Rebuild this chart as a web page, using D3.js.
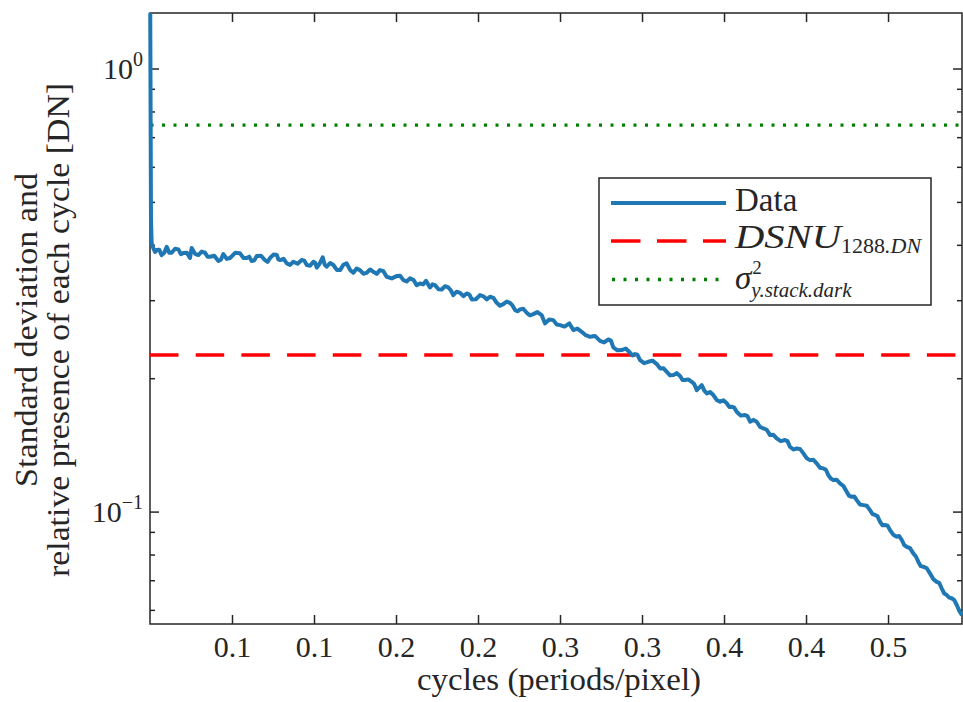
<!DOCTYPE html>
<html><head><meta charset="utf-8">
<script src="https://cdn.jsdelivr.net/npm/d3@7"></script>
<style>
body{margin:0;background:#fff}
svg{display:block}
text{font-family:"Liberation Serif","Times New Roman",serif;fill:#262626}
</style>
</head><body>
<svg id="c" width="963" height="702"></svg>
<script>
// ---------- data ----------
const freq = [0,0.0006,0.0010,0.0020,0.0031,0.0041,0.0056,0.0071,0.0087,0.0102,0.0117,0.0132,0.0153,0.0173,0.0188,0.0203,0.0224,0.0244,0.0254,0.0275,0.0295,0.0315,0.0335,0.0351,0.0366,0.0392,0.0417,0.0432,0.0447,0.0468,0.0488,0.0519,0.0549,0.0570,0.0590,0.0605,0.0620,0.0636,0.0651,0.0676,0.0701,0.0717,0.0732,0.0753,0.0773,0.0783,0.0793,0.0814,0.0834,0.0854,0.0874,0.0900,0.0925,0.0941,0.0956,0.0976,0.0996,0.1007,0.1017,0.1035,0.1053,0.1065,0.1077,0.1098,0.1118,0.1139,0.1159,0.1179,0.1199,0.1220,0.1240,0.1260,0.1280,0.1301,0.1321,0.1342,0.1362,0.1382,0.1402,0.1423,0.1443,0.1474,0.1504,0.1525,0.1545,0.1565,0.1585,0.1606,0.1626,0.1646,0.1665,0.1683,0.1707,0.1723,0.1738,0.1759,0.1779,0.1799,0.1819,0.1834,0.1849,0.1870,0.1890,0.1911,0.1931,0.1947,0.1962,0.1987,0.2012,0.2033,0.2053,0.2073,0.2094,0.2114,0.2134,0.2154,0.2175,0.2195,0.2210,0.2226,0.2241,0.2256,0.2276,0.2297,0.2317,0.2337,0.2362,0.2388,0.2409,0.2434,0.2459,0.2480,0.2500,0.2528,0.2557,0.2581,0.2606,0.2632,0.2657,0.2683,0.2713,0.2744,0.2769,0.2795,0.2810,0.2825,0.2850,0.2876,0.2901,0.2927,0.2942,0.2957,0.2972,0.2988,0.3013,0.3038,0.3064,0.3090,0.3110,0.3130,0.3151,0.3171,0.3191,0.3211,0.3232,0.3247,0.3262,0.3282,0.3303,0.3318,0.3334,0.3364,0.3380,0.3395,0.3415,0.3435,0.3455,0.3476,0.3496,0.3517,0.3532,0.3547,0.3562,0.3577,0.3602,0.3628,0.3643,0.3659,0.3679,0.3699,0.3720,0.3740,0.3760,0.3781,0.3801,0.3821,0.3846,0.3872,0.3887,0.3902,0.3923,0.3943,0.3963,0.3984,0.4004,0.4024,0.4045,0.4065,0.4085,0.4106,0.4121,0.4136,0.4151,0.4167,0.4187,0.4207,0.4228,0.4248,0.4263,0.4279,0.4294,0.4309,0.4329,0.4349,0.4370,0.4390,0.4405,0.4421,0.4436,0.4451,0.4466,0.4482,0.4497,0.4512,0.4532,0.4553,0.4568,0.4584,0.4599,0.4614,0.4634,0.4654,0.4670,0.4685,0.4700,0.4715,0.4736,0.4756,0.4776,0.4797,0.4812,0.4827,0.4843,0.4858,0.4873,0.4888,0.4904,0.4919,0.4935,0.4951];
const stdev = [1.9,0.46,0.4048,0.3944,0.3865,0.3903,0.3911,0.3803,0.3848,0.3971,0.3851,0.3849,0.3930,0.3917,0.3822,0.3843,0.3851,0.3745,0.3944,0.3827,0.3803,0.3872,0.3849,0.3772,0.3770,0.3789,0.3687,0.3710,0.3823,0.3727,0.3745,0.3848,0.3837,0.3746,0.3745,0.3772,0.3687,0.3699,0.3784,0.3790,0.3706,0.3670,0.3745,0.3812,0.3803,0.3717,0.3706,0.3730,0.3643,0.3614,0.3673,0.3634,0.3706,0.3695,0.3611,0.3598,0.3673,0.3653,0.3561,0.3640,0.3758,0.3620,0.3579,0.3649,0.3611,0.3521,0.3517,0.3616,0.3643,0.3520,0.3468,0.3545,0.3517,0.3451,0.3468,0.3529,0.3486,0.3449,0.3517,0.3498,0.3397,0.3369,0.3409,0.3414,0.3339,0.3314,0.3369,0.3344,0.3253,0.3281,0.3264,0.3327,0.3214,0.3266,0.3253,0.3185,0.3180,0.3235,0.3214,0.3167,0.3088,0.3144,0.3125,0.3073,0.3115,0.3098,0.3020,0.3023,0.3088,0.3069,0.3020,0.3062,0.3045,0.2967,0.2922,0.2947,0.2987,0.2967,0.2927,0.2857,0.2839,0.2867,0.2876,0.2817,0.2780,0.2798,0.2827,0.2783,0.2666,0.2721,0.2712,0.2650,0.2642,0.2622,0.2666,0.2575,0.2595,0.2552,0.2507,0.2487,0.2498,0.2435,0.2415,0.2453,0.2439,0.2353,0.2318,0.2321,0.2340,0.2289,0.2258,0.2273,0.2265,0.2203,0.2168,0.2184,0.2197,0.2158,0.2110,0.2113,0.2073,0.2035,0.2038,0.2059,0.2028,0.1987,0.1986,0.1993,0.1968,0.1946,0.1885,0.1935,0.1880,0.1853,0.1867,0.1837,0.1791,0.1774,0.1788,0.1760,0.1727,0.1729,0.1721,0.1685,0.1651,0.1656,0.1647,0.1599,0.1615,0.1599,0.1556,0.1545,0.1534,0.1492,0.1494,0.1467,0.1446,0.1454,0.1446,0.1404,0.1384,0.1392,0.1389,0.1357,0.1323,0.1310,0.1312,0.1288,0.1259,0.1255,0.1246,0.1212,0.1191,0.1181,0.1183,0.1161,0.1145,0.1111,0.1088,0.1083,0.1085,0.1064,0.1040,0.1037,0.1034,0.1010,0.0990,0.0985,0.0978,0.0951,0.0934,0.0935,0.0932,0.0911,0.0889,0.0880,0.0883,0.0865,0.0842,0.0835,0.0829,0.0807,0.0794,0.0772,0.0755,0.0753,0.0747,0.0727,0.0706,0.0696,0.0692,0.0673,0.0655,0.0650,0.0641,0.0639,0.0633,0.0617,0.0598,0.0585];
const dsnuLevel = 0.2262;
const sigmaLevel = 0.7475;
const xDomain = [0, 0.4951];
const yDomain = [0.0559, 1.338];
const xTickValues = [0.05,0.10,0.15,0.20,0.25,0.30,0.35,0.40,0.45];
const xTickLabels = ["0.1","0.1","0.2","0.2","0.3","0.3","0.4","0.4","0.5"];
const yMajorTicks = [0.1, 1];
const yMajorExponents = ["\u22121", "0"];
const yMinorTicks = [0.06,0.07,0.08,0.09,0.2,0.3,0.4,0.5,0.6,0.7,0.8,0.9];
const xLabel = "cycles (periods/pixel)";
const yLabelLines = ["Standard deviation and", "relative presence of each cycle [DN]"];

// ---------- layout ----------
const L = 150, R = 962, T = 13, B = 624;
const axisColor = "#262626";
const blue = "#1f77b4";
const svg = d3.select("#c");
const x = d3.scaleLinear().domain(xDomain).range([L, R]);
const y = d3.scaleLog().domain(yDomain).range([B, T]);

svg.append("defs").append("clipPath").attr("id","clip")
  .append("rect").attr("x", L-3).attr("y", T).attr("width", R-L+6).attr("height", B-T);

// axes box
svg.append("rect").attr("x",L).attr("y",T).attr("width",R-L).attr("height",B-T)
  .attr("fill","none").attr("stroke",axisColor).attr("stroke-width",1.5);

// x ticks bottom and top (inward)
const gx = svg.append("g").attr("transform",`translate(0,${B})`)
  .call(d3.axisBottom(x).tickValues(xTickValues).tickSizeInner(-9).tickSizeOuter(0)
        .tickFormat((d,i)=>xTickLabels[i]));
gx.select(".domain").remove();
gx.selectAll(".tick line").attr("stroke",axisColor).attr("stroke-width",1.5);
gx.selectAll(".tick text").attr("y",33).attr("dy",null).attr("font-size",30)
  .attr("font-family","Liberation Serif").attr("fill",axisColor);
const gxt = svg.append("g").attr("transform",`translate(0,${T})`)
  .call(d3.axisTop(x).tickValues(xTickValues).tickSizeInner(-9).tickSizeOuter(0).tickFormat(""));
gxt.select(".domain").remove();
gxt.selectAll(".tick line").attr("stroke",axisColor).attr("stroke-width",1.5);

// y ticks left and right
function yTicks(side){
  const sgn = side==="left" ? 1 : -1;
  const x0 = side==="left" ? L : R;
  const g = svg.append("g");
  g.selectAll("line.maj").data(yMajorTicks).join("line").attr("class","maj")
    .attr("x1",x0).attr("x2",x0+sgn*9).attr("y1",d=>y(d)).attr("y2",d=>y(d))
    .attr("stroke",axisColor).attr("stroke-width",1.5);
  g.selectAll("line.min").data(yMinorTicks).join("line").attr("class","min")
    .attr("x1",x0).attr("x2",x0+sgn*5).attr("y1",d=>y(d)).attr("y2",d=>y(d))
    .attr("stroke",axisColor).attr("stroke-width",1.5);
}
yTicks("left"); yTicks("right");

// y tick labels 10^n
yMajorTicks.forEach((d,i)=>{
  const t = svg.append("text").attr("x",143).attr("y",y(d)+10)
    .attr("text-anchor","end").attr("font-size",30);
  t.append("tspan").text("10");
  t.append("tspan").attr("dy",-13).attr("font-size",20).text(yMajorExponents[i]);
});

// axis labels
svg.append("text").attr("x",(L+R)/2+3).attr("y",690).attr("text-anchor","middle")
  .attr("font-size",32).attr("textLength",284).attr("lengthAdjust","spacingAndGlyphs").text(xLabel);
const yLabLen = [314, 494];
yLabelLines.forEach((s,i)=>{
  svg.append("text").attr("transform",`translate(${37+i*32},330) rotate(-90)`)
    .attr("text-anchor","middle").attr("font-size",32)
    .attr("textLength",yLabLen[i]).attr("lengthAdjust","spacingAndGlyphs").text(s);
});

// reference lines
const plot = svg.append("g").attr("clip-path","url(#clip)");
plot.append("line").attr("x1",x(xDomain[0])).attr("x2",x(xDomain[1]))
  .attr("y1",y(dsnuLevel)).attr("y2",y(dsnuLevel))
  .attr("stroke","#ff0000").attr("stroke-width",3.5).attr("stroke-dasharray","28.5,17.2");
plot.append("line").attr("x1",x(xDomain[0])+0.5).attr("x2",x(xDomain[1]))
  .attr("y1",y(sigmaLevel)).attr("y2",y(sigmaLevel))
  .attr("stroke","#008000").attr("stroke-width",3.3).attr("stroke-dasharray","3,8.5");

// data line
const pts = freq.map((f,i)=>[f, stdev[i]]);
plot.append("path").datum(pts)
  .attr("d", d3.line().x(d=>x(d[0])).y(d=>y(d[1])))
  .attr("fill","none").attr("stroke",blue).attr("stroke-width",4)
  .attr("stroke-linejoin","round");

// legend
const lg = svg.append("g");
lg.append("rect").attr("x",599).attr("y",178).attr("width",332).attr("height",127)
  .attr("fill","#fff").attr("stroke",axisColor).attr("stroke-width",1.5);
const rows = [203, 241, 279.5];
lg.append("line").attr("x1",611).attr("x2",726).attr("y1",rows[0]).attr("y2",rows[0])
  .attr("stroke",blue).attr("stroke-width",4);
lg.append("line").attr("x1",611).attr("x2",726).attr("y1",rows[1]).attr("y2",rows[1])
  .attr("stroke","#ff0000").attr("stroke-width",3.5).attr("stroke-dasharray","29.5,16.5");
lg.append("line").attr("x1",612).attr("x2",720).attr("y1",rows[2]).attr("y2",rows[2])
  .attr("stroke","#008000").attr("stroke-width",3.3).attr("stroke-dasharray","3,8.5");

const tx = 735;
lg.append("text").attr("x",tx).attr("y",211).attr("font-size",33).text("Data");
// DSNU_{1288.DN}
const d1 = lg.append("text").attr("x",tx).attr("y",248).attr("font-size",33).attr("font-style","italic");
d1.append("tspan").attr("textLength",106).attr("lengthAdjust","spacingAndGlyphs").text("DSNU");
d1.append("tspan").attr("dy",5).attr("font-size",22).attr("font-style","normal").text("1288");
d1.append("tspan").attr("font-size",22).text(".DN");
// sigma^2_{y.stack.dark} as one text element
const s1 = lg.append("text").attr("x",tx).attr("y",289).attr("font-size",33).attr("font-style","italic");
const sig = s1.append("tspan").text("\u03c3");
const sw = sig.node().getComputedTextLength();
s1.append("tspan").attr("dx",1).attr("dy",-15).attr("font-size",19).attr("font-style","normal").text("2");
s1.append("tspan").attr("x",tx+sw).attr("y",297).attr("font-size",21).text("y.stack.dark");
</script>
</body></html>
